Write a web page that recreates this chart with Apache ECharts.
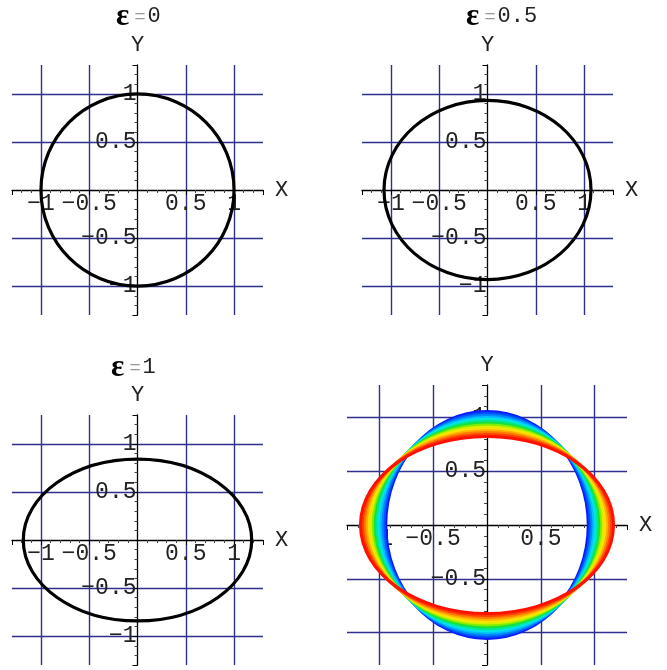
<!DOCTYPE html>
<html>
<head>
<meta charset="utf-8">
<script src="https://cdn.jsdelivr.net/npm/echarts@6/dist/echarts.min.js"></script>
<style>
html,body{margin:0;padding:0;background:#fff;}
#chart{width:667px;height:670px;}
</style>
</head>
<body>
<div id="chart"></div>
<script>
// ---- data ----
const panelEps = ['0', '0.5', '1'];           // ε values in the titles
const ellipseA = [1.000, 1.072, 1.183];       // x semi-axis for each ε panel
const ellipseB = [1.000, 0.932, 0.842];       // y semi-axis for each ε panel
const bandA = [0.940, 0.958, 0.976, 0.994, 1.012, 1.030, 1.048, 1.066, 1.084, 1.102, 1.121, 1.139, 1.157, 1.175];
const bandB = [1.053, 1.035, 1.017, 0.999, 0.982, 0.964, 0.946, 0.929, 0.911, 0.893, 0.876, 0.858, 0.840, 0.822];
const bandColors = ['#0a1cff', '#0050ff', '#0088ff', '#00c0ff', '#00e6e6', '#00e890', '#18e040',
                    '#80ee00', '#d8f000', '#ffe000', '#ffb000', '#ff7a00', '#ff4000', '#ff1000'];
const axisMin = -1.3, axisMax = 1.3;

// ---- layout / style ----
const NAVY = '#2f2f8c';
const gridColors = [NAVY, NAVY, 'rgba(0,0,0,0)', NAVY, NAVY];
const grids = [
  {left: 12,  top: 65,  width: 251, height: 250},
  {left: 362, top: 65,  width: 251, height: 250},
  {left: 12,  top: 415, width: 251, height: 250},
  {left: 347, top: 385, width: 280, height: 280}
];
const titlePos = [{left: 116, top: 1}, {left: 466, top: 1}, {left: 111, top: 352}];
const MONO = 'Liberation Mono';

function fmt(v) {
  if (Math.abs(v) < 1e-9) return '';
  return String(v).replace('-', '\u2212');
}
function xAxis(i) {
  return {
    type: 'value', gridIndex: i, min: axisMin, max: axisMax, splitNumber: 5,
    position: 'bottom', offset: -grids[i].height / 2,
    name: 'X', nameLocation: 'end', nameGap: 12,
    nameTextStyle: {fontFamily: MONO, fontSize: 22, color: '#222', verticalAlign: 'middle'},
    axisLine: {onZero: false, lineStyle: {color: '#000', width: 1.3}},
    axisTick: {show: true, length: 5, lineStyle: {color: '#000'}},
    minorTick: {show: true, splitNumber: 5, length: 3, lineStyle: {color: '#444'}},
    splitLine: {show: true, showMinLine: false, showMaxLine: false, lineStyle: {color: gridColors, width: 1.4}},
    axisLabel: {showMinLabel: false, showMaxLabel: false, formatter: fmt, margin: 2,
                fontFamily: MONO, fontSize: 23, color: '#222'}
  };
}
function yAxis(i) {
  return {
    type: 'value', gridIndex: i, min: axisMin, max: axisMax, splitNumber: 5,
    position: 'left', offset: -grids[i].width / 2,
    name: 'Y', nameLocation: 'end', nameGap: 9,
    nameTextStyle: {fontFamily: MONO, fontSize: 22, color: '#222', align: 'center'},
    axisLine: {onZero: false, lineStyle: {color: '#000', width: 1.3}},
    axisTick: {show: true, length: 5, lineStyle: {color: '#000'}},
    minorTick: {show: true, splitNumber: 5, length: 3, lineStyle: {color: '#444'}},
    splitLine: {show: true, showMinLine: false, showMaxLine: false, lineStyle: {color: gridColors, width: 1.4}},
    axisLabel: {showMinLabel: false, showMaxLabel: false, formatter: fmt, margin: 1,
                fontFamily: MONO, fontSize: 23, color: '#222', verticalAlign: 'middle'}
  };
}
function ellipseRender(colors, width) {
  return function (params, api) {
    const c = api.coord([0, 0]);
    const s = api.size([api.value(0), api.value(1)]);
    return {
      type: 'ellipse',
      shape: {cx: c[0], cy: c[1], rx: s[0], ry: s[1]},
      style: {fill: 'none', stroke: colors[params.dataIndex % colors.length], lineWidth: width}
    };
  };
}

const series = [];
for (let i = 0; i < 3; i++) {
  series.push({
    type: 'custom', xAxisIndex: i, yAxisIndex: i, silent: true, clip: false,
    data: [[ellipseA[i], ellipseB[i]]],
    renderItem: ellipseRender(['#000'], 3.2)
  });
}
series.push({
  type: 'custom', xAxisIndex: 3, yAxisIndex: 3, silent: true, clip: false,
  data: bandA.map((a, k) => [a, bandB[k]]),
  renderItem: ellipseRender(bandColors, 3)
});

const titles = panelEps.map((e, i) => ({
  text: '{e|\u03B5}{q| =}{v|' + e + '}',
  left: titlePos[i].left, top: titlePos[i].top, padding: 0,
  textStyle: {
    fontWeight: 'normal',
    rich: {
      e: {fontFamily: 'Liberation Serif', fontWeight: 'bold', fontSize: 31, color: '#000'},
      q: {fontFamily: 'Liberation Sans', fontWeight: 'normal', fontSize: 19, color: '#999', padding: [0, 2, 0, 0]},
      v: {fontFamily: MONO, fontWeight: 'normal', fontSize: 22, color: '#222'}
    }
  }
}));

const chart = echarts.init(document.getElementById('chart'), null, {renderer: 'canvas'});
chart.setOption({
  animation: false,
  backgroundColor: '#fff',
  title: titles,
  grid: grids.map(g => Object.assign({outerBoundsMode: 'none', containLabel: false}, g)),
  xAxis: [0, 1, 2, 3].map(xAxis),
  yAxis: [0, 1, 2, 3].map(yAxis),
  series: series
});
</script>
</body>
</html>
